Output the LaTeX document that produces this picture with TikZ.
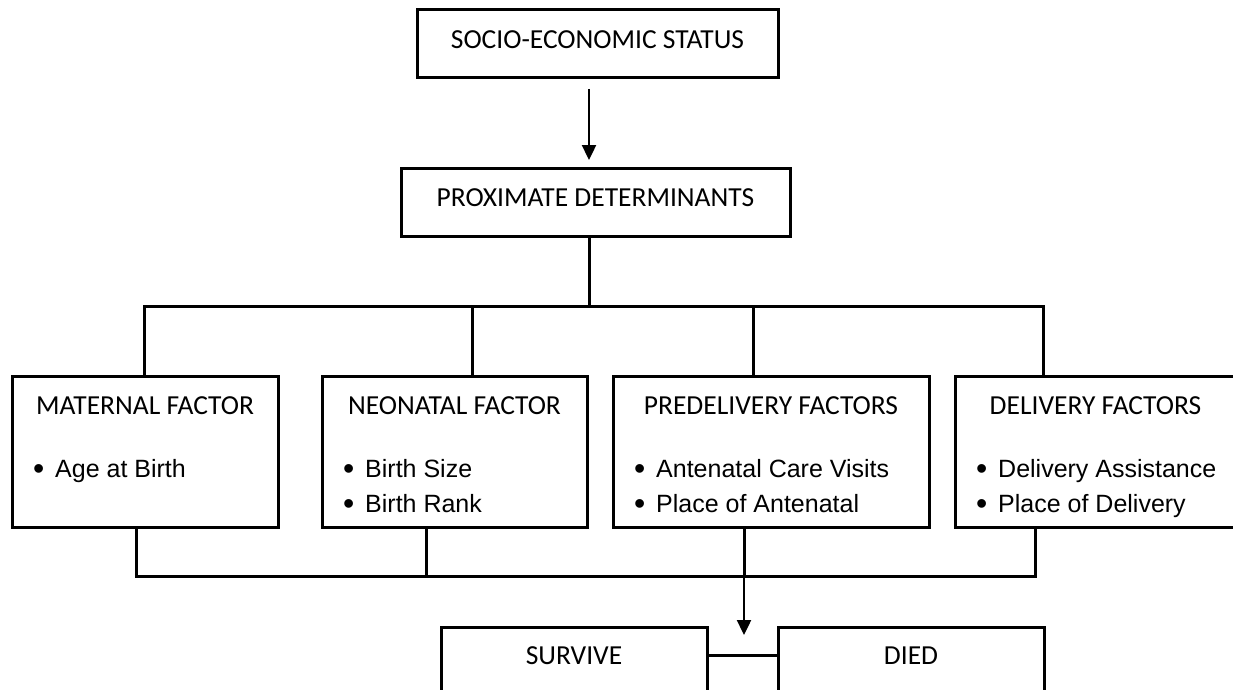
\documentclass[tikz,border=0pt]{standalone}
\usepackage{fontspec}
\setmainfont{Carlito}
\newfontfamily\arialfont{Liberation Sans}
\usetikzlibrary{arrows.meta,calc,positioning}

\newcommand{\bul}[1]{\makebox[22pt][l]{\raisebox{-2.5pt}{\fontsize{32}{30}\selectfont\textbullet}}#1}

\begin{document}
\begin{tikzpicture}[auto,>={Triangle[length=15pt,width=14pt]},x=1pt,y=1pt]
	\tikzstyle{block} = [draw, rectangle, line width=3pt, inner sep=0pt, outer sep=0pt, font=\fontsize{27.5}{32}\selectfont]
	\tikzstyle{head} = [block, minimum height=68pt, text depth=9pt]
	\tikzstyle{factor} = [block, minimum height=151pt]
	\tikzstyle{ttl} = [inner sep=0pt, font=\fontsize{27.5}{32}\selectfont]
	\tikzstyle{item} = [inner sep=0pt, font=\arialfont\fontsize{25}{30}\selectfont]
	\tikzstyle{wire} = [line width=3pt]
	\tikzstyle{arrow} = [->, line width=2.4pt]

	\useasboundingbox (0,0) rectangle (1233,-690);

	\node [head, minimum width=361pt] (ses) at (597.5,-44) {SOCIO-ECONOMIC STATUS};
	\node [head, minimum width=389pt, below=90pt of ses, xshift=-2pt] (prox) {PROXIMATE DETERMINANTS};

	\node [coordinate, below=11pt of ses.south, xshift=-8.5pt] (a0){};
	\node [coordinate, above=8pt of prox.north, xshift=-6.5pt] (a1){};

	\node [factor, minimum width=266pt] (mat) at (145,-451.5) {};
	\node [factor, minimum width=265pt, right=44pt of mat] (neo) {};
	\node [factor, minimum width=316pt, right=26pt of neo] (pre) {};
	\node [factor, minimum width=281pt, right=26pt of pre] (del) {};

	\node [ttl, below=38pt of mat.north, anchor=base] (matT) {MATERNAL FACTOR};
	\node [ttl, below=38pt of neo.north, anchor=base] (neoT) {NEONATAL FACTOR};
	\node [ttl, below=38pt of pre.north, anchor=base] (preT) {PREDELIVERY FACTORS};
	\node [ttl, below=38pt of del.north, anchor=base] (delT) {DELIVERY FACTORS};

	\node [item, below right=101pt and 21pt of mat.north west, anchor=base west] (matL1) {\bul{Age at Birth}};
	\node [item, below right=101pt and 21pt of neo.north west, anchor=base west] (neoL1) {\bul{Birth Size}};
	\node [item, below=35pt of neoL1.base west, anchor=base west] (neoL2) {\bul{Birth Rank}};
	\node [item, below right=101pt and 21pt of pre.north west, anchor=base west] (preL1) {\bul{Antenatal Care Visits}};
	\node [item, below=35pt of preL1.base west, anchor=base west] (preL2) {\bul{Place of Antenatal}};
	\node [item, below right=101pt and 21pt of del.north west, anchor=base west] (delL1) {\bul{Delivery Assistance}};
	\node [item, below=35pt of delL1.base west, anchor=base west] (delL2) {\bul{Place of Delivery}};

	\node [coordinate, above=70pt of mat.north, xshift=-1pt] (t1){};
	\node [coordinate, above=70pt of neo.north, xshift=17.5pt] (t2){};
	\node [coordinate, above=70pt of pre.north, xshift=-18pt] (t3){};
	\node [coordinate, above=70pt of del.north, xshift=-52.5pt] (t4){};

	\node [coordinate, below=49pt of mat.south, xshift=-9pt] (b1){};
	\node [coordinate, below=49pt of neo.south, xshift=-28.5pt] (b2){};
	\node [coordinate, below=49pt of pre.south, xshift=-27pt] (b3){};
	\node [coordinate, below=49pt of del.south, xshift=-60.5pt] (b4){};

	\node [head, minimum width=266pt, minimum height=66pt] (surv) at (574,-660) {SURVIVE};
	\node [head, minimum width=266pt, minimum height=66pt, right=71pt of surv] (died) {DIED};
	\node [coordinate] (a2) at ($(b3 |- surv.north)+(0,-8)$) {};

	\draw [arrow] (a0) -- (a1);
	\draw [wire] (a1 |- prox.south) -- (a1 |- t1);
	\draw [wire] (t1 |- mat.north) -- (t1) -- (t4) -- (t4 |- del.north);
	\draw [wire] (t2) -- (t2 |- neo.north);
	\draw [wire] (t3) -- (t3 |- pre.north);
	\draw [wire] (b1 |- mat.south) -- (b1) -- (b4) -- (b4 |- del.south);
	\draw [wire] (b2 |- neo.south) -- (b2);
	\draw [wire] (b3 |- pre.south) -- (b3);
	\draw [arrow] (b3) -- (a2);
	\draw [wire] ([yshift=4.5pt]surv.east) -- ([yshift=4.5pt]died.west);

\end{tikzpicture}
\end{document}
